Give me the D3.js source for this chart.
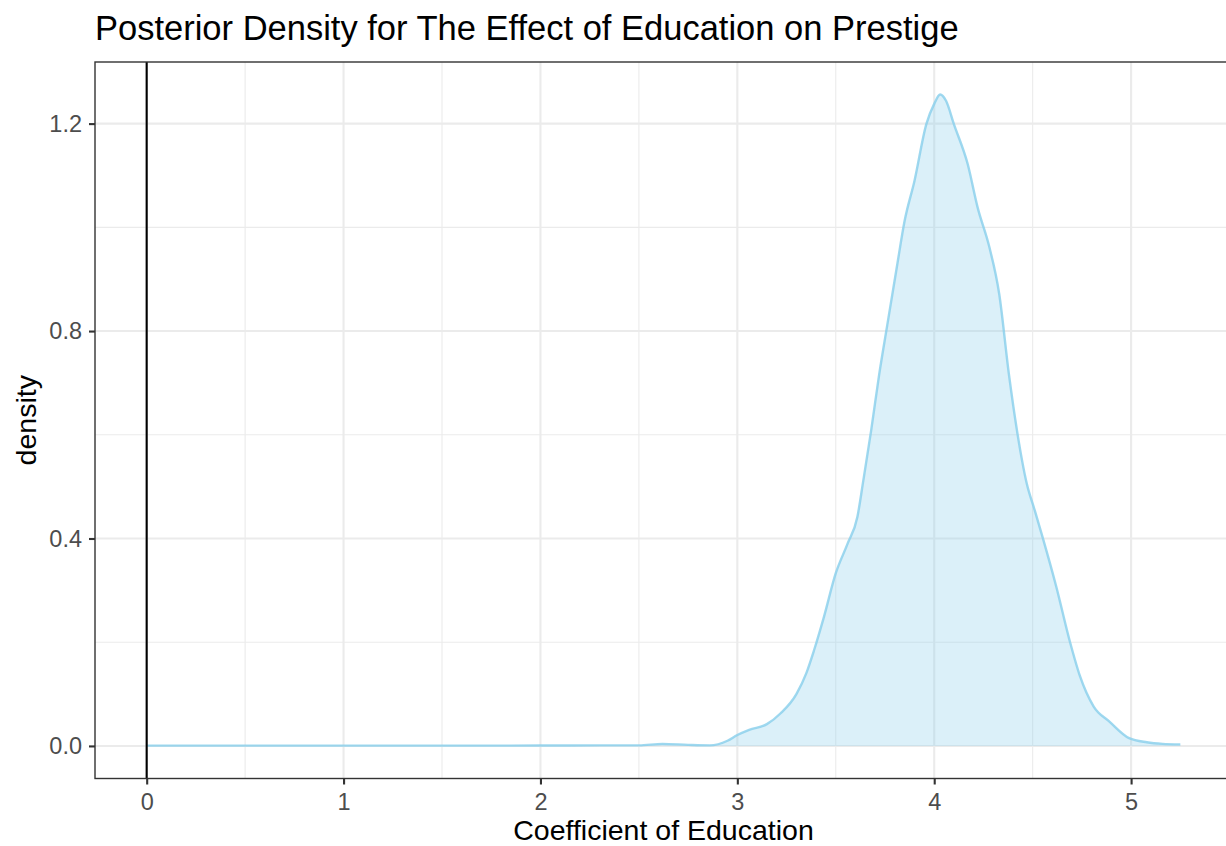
<!DOCTYPE html>
<html>
<head>
<meta charset="utf-8">
<script src="https://cdn.jsdelivr.net/npm/d3@7"></script>
<style>
  body { margin: 0; background: #fff; }
  svg { display: block; font-family: "Liberation Sans", Arial, sans-serif; }
</style>
</head>
<body>
<div id="chart"></div>
<script>
// Density estimate
const coefValues = [0, 0.5, 1, 1.5, 2, 2.3, 2.5, 2.62, 2.75, 2.86, 2.95, 3.0, 3.06, 3.15, 3.22, 3.30, 3.35, 3.39,
  3.44, 3.50, 3.56, 3.61, 3.64, 3.68, 3.72, 3.76, 3.81, 3.85, 3.90, 3.96, 4.00, 4.03, 4.06, 4.10, 4.17, 4.22,
  4.28, 4.33, 4.38, 4.42, 4.47, 4.51, 4.55, 4.62, 4.69, 4.74, 4.81, 4.89, 4.99, 5.08, 5.16, 5.25];
const densityValues = [0.0005, 0.0005, 0.0005, 0.0005, 0.0008, 0.001, 0.001, 0.004, 0.002, 0.001, 0.01, 0.021,
  0.031, 0.042, 0.063, 0.10, 0.14, 0.185, 0.249, 0.333, 0.39, 0.442, 0.512, 0.609, 0.715, 0.808, 0.923, 1.013,
  1.09, 1.199, 1.238, 1.256, 1.244, 1.199, 1.122, 1.039, 0.962, 0.872, 0.715, 0.609, 0.506, 0.455, 0.403, 0.307,
  0.20, 0.135, 0.076, 0.047, 0.015, 0.007, 0.004, 0.003];
const xTicks = [0, 1, 2, 3, 4, 5];
const xMinor = [0.5, 1.5, 2.5, 3.5, 4.5];
const yTicks = [0, 0.4, 0.8, 1.2];
const yMinor = [0.2, 0.6, 1.0];
const refLine = 0;

const data = coefValues.map((c, i) => ({ x: c, y: densityValues[i] }));

// Setting dimensions
const width = 1226, height = 846;
const panel = { left: 95, top: 62, right: 1232, bottom: 778.5 };

const svg = d3.select("#chart")
  .append("svg")
  .attr("width", width)
  .attr("height", height);

// Scales with ggplot-like 5% expansion
const xMax = d3.max(coefValues);
const xPad = xMax * 0.05;
const x = d3.scaleLinear()
  .domain([0 - xPad, xMax + xPad])
  .range([panel.left, panel.right]);

const yMax = d3.max(densityValues);
const yPad = yMax * 0.05;
const y = d3.scaleLinear()
  .domain([0 - yPad, yMax + yPad])
  .range([panel.bottom, panel.top]);

// Clip for the panel
svg.append("clipPath").attr("id", "panel-clip")
  .append("rect")
  .attr("x", panel.left).attr("y", panel.top)
  .attr("width", panel.right - panel.left).attr("height", panel.bottom - panel.top);

const g = svg.append("g").attr("clip-path", "url(#panel-clip)");

// Grid lines
g.selectAll(".xminor").data(xMinor).enter().append("line")
  .attr("x1", d => x(d)).attr("x2", d => x(d))
  .attr("y1", panel.top).attr("y2", panel.bottom)
  .attr("stroke", "#EBEBEB").attr("stroke-width", 1.1);
g.selectAll(".yminor").data(yMinor).enter().append("line")
  .attr("y1", d => y(d)).attr("y2", d => y(d))
  .attr("x1", panel.left).attr("x2", panel.right)
  .attr("stroke", "#EBEBEB").attr("stroke-width", 1.1);
g.selectAll(".xmajor").data(xTicks).enter().append("line")
  .attr("x1", d => x(d)).attr("x2", d => x(d))
  .attr("y1", panel.top).attr("y2", panel.bottom)
  .attr("stroke", "#EBEBEB").attr("stroke-width", 2.1);
g.selectAll(".ymajor").data(yTicks).enter().append("line")
  .attr("y1", d => y(d)).attr("y2", d => y(d))
  .attr("x1", panel.left).attr("x2", panel.right)
  .attr("stroke", "#EBEBEB").attr("stroke-width", 2.1);

// Density area and outline
const area = d3.area()
  .x(d => x(d.x))
  .y0(y(0))
  .y1(d => y(d.y))
  .curve(d3.curveMonotoneX);
const line = d3.line()
  .x(d => x(d.x))
  .y(d => y(d.y))
  .curve(d3.curveMonotoneX);

g.append("path").datum(data)
  .attr("d", area)
  .attr("fill", "#87CEEB")
  .attr("fill-opacity", 0.3);
g.append("path").datum(data)
  .attr("d", line)
  .attr("fill", "none")
  .attr("stroke", "#87CEEB")
  .attr("stroke-opacity", 0.8)
  .attr("stroke-width", 2.4);

// Vertical reference line at zero
g.append("line")
  .attr("x1", x(refLine)).attr("x2", x(refLine))
  .attr("y1", panel.top).attr("y2", panel.bottom)
  .attr("stroke", "#000").attr("stroke-width", 2.1);

// Panel border
svg.append("rect")
  .attr("x", panel.left).attr("y", panel.top)
  .attr("width", panel.right - panel.left).attr("height", panel.bottom - panel.top)
  .attr("fill", "none").attr("stroke", "#333333").attr("stroke-width", 1.4);

// Axes
const xAxis = svg.append("g")
  .attr("transform", "translate(0," + panel.bottom + ")")
  .call(d3.axisBottom(x).tickValues(xTicks).tickFormat(d3.format("d")).tickSize(6).tickPadding(9));
const yAxis = svg.append("g")
  .attr("transform", "translate(" + panel.left + ",0)")
  .call(d3.axisLeft(y).tickValues(yTicks).tickFormat(d3.format(".1f")).tickSize(6).tickPadding(7));

[xAxis, yAxis].forEach(a => {
  a.select(".domain").remove();
  a.selectAll(".tick line").attr("stroke", "#333333").attr("stroke-width", 2.1);
  a.selectAll(".tick text")
    .attr("fill", "#4D4D4D")
    .style("font-size", "23.5px")
    .style("font-family", "Liberation Sans, Arial, sans-serif");
});

// Titles
svg.append("text")
  .attr("x", 95).attr("y", 40)
  .style("font-size", "34.5px")
  .attr("fill", "#000")
  .text("Posterior Density for The Effect of Education on Prestige");

svg.append("text")
  .attr("x", (panel.left + panel.right) / 2).attr("y", 840)
  .attr("text-anchor", "middle")
  .style("font-size", "28.5px")
  .attr("fill", "#000")
  .text("Coefficient of Education");

svg.append("text")
  .attr("transform", "translate(36," + (panel.top + panel.bottom) / 2 + ") rotate(-90)")
  .attr("text-anchor", "middle")
  .style("font-size", "28.5px")
  .attr("fill", "#000")
  .text("density");
</script>
</body>
</html>
